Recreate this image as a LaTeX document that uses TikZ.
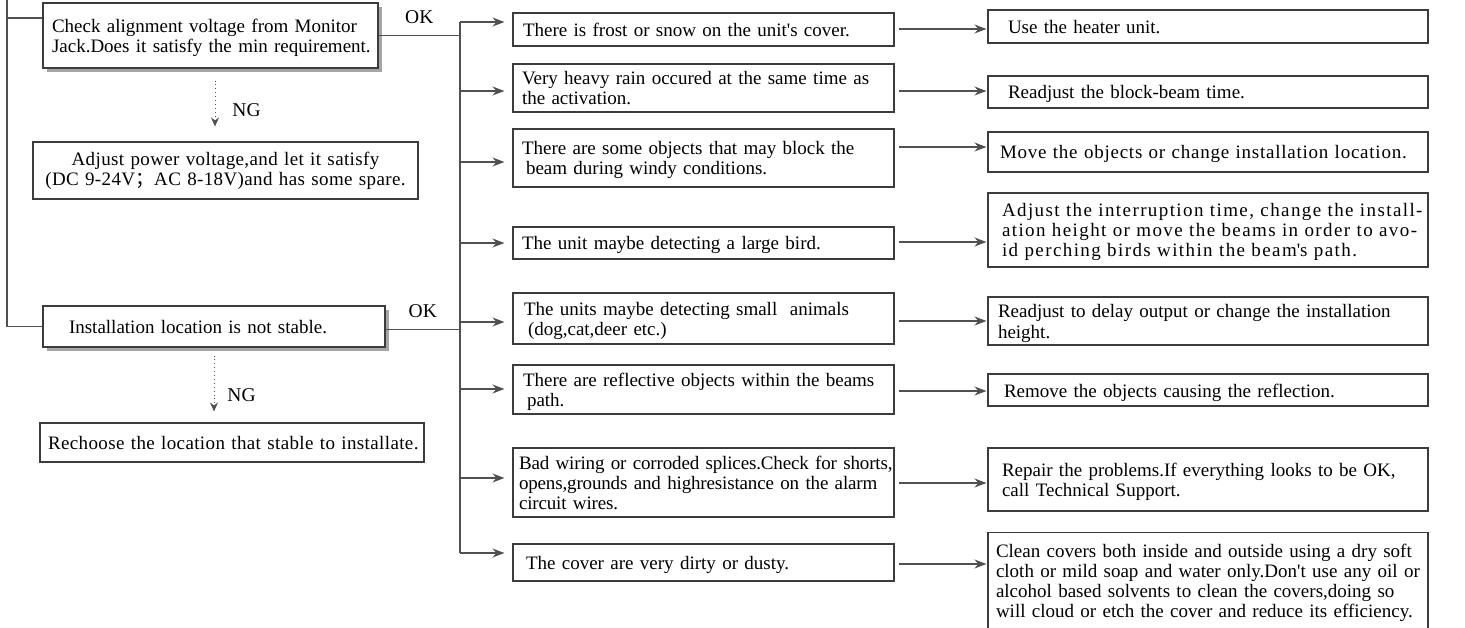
\documentclass[tikz,border=0pt]{standalone}
\usepackage{fontspec}
\setmainfont{Liberation Serif}
\newfontfamily\cjk{Noto Sans CJK SC}
\usetikzlibrary{positioning,arrows.meta,shadows,calc}
\definecolor{linecol}{RGB}{80,80,80}
\definecolor{boxcol}{RGB}{60,60,60}
\definecolor{shadowcol}{RGB}{165,165,165}
\newcommand{\boxfont}{\fontsize{19}{20}\selectfont}
% lines of a box, each one indented by #1 pt
\newcommand{\boxtext}[2]{\begin{tabular}{@{\hspace*{#1pt}}l@{}}\rule{0pt}{20pt}#2\end{tabular}}
\tikzset{
  wire/.style={draw=linecol, line width=1.1pt},
  flowarrow/.style={wire, -{Stealth[length=12pt,width=9pt,inset=4pt]}},
  dotarrow/.style={wire, line width=0.9pt, dash pattern=on 0.9pt off 3pt, -{Stealth[length=9pt,width=8pt,inset=3pt]}},
  box/.style={draw=boxcol, line width=1.1pt, fill=white, inner sep=0pt, align=left, text width=#1, font=\boxfont},
  midbox/.style={box=381pt},
  rightbox/.style={box=440pt},
  spaced/.style={font={\boxfont\addfontfeatures{LetterSpace=#1}}},
  shadowed/.style={drop shadow={shadow xshift=4pt, shadow yshift=-4pt, fill=shadowcol, opacity=1}},
  oklabel/.style={above=9pt, inner sep=2pt, font=\fontsize{19.5}{20}\selectfont},
  nglabel/.style={inner sep=2pt, font=\fontsize{19.5}{20}\selectfont}
}
\begin{document}
\begin{tikzpicture}[x=1pt, y=-1pt]
  \useasboundingbox (0,0) rectangle (1465,628);
  \clip (0,0) rectangle (1465,628);
  % left column
  \node[box=335pt, shadowed, minimum height=65pt] (chk) at (210.5,35.5) {\boxtext{9}{Check alignment voltage from Monitor\\Jack.Does it satisfy the min requirement.}};
  \node[box=385pt, spaced=2, align=center, minimum height=57pt] (adj) at (225.5,170.5) {Adjust power voltage,and let it satisfy\\(DC 9-24V{\cjk ；}AC 8-18V)and has some spare.};
  \node[box=342pt, shadowed, minimum height=41pt] (inst) at (214,326.5) {\boxtext{26}{Installation location is not stable.}};
  \node[box=384pt, spaced=2, minimum height=39pt] (rech) at (232,442.5) {\boxtext{8}{Rechoose the location that stable to installate.}};
  % causes
  \node[midbox, minimum height=33pt] (m1) at (703.5,29.5) {\boxtext{10}{There is frost or snow on the unit\textquotesingle s cover.}};
  \node[midbox, minimum height=48pt] (m2) at (703.5,88) {\boxtext{9}{Very heavy rain occured at the same time as\\the activation.}};
  \node[midbox, minimum height=58pt] (m3) at (703.5,158) {\boxtext{9}{There are some objects that may block the\\\hspace*{4pt}beam during windy conditions.}};
  \node[midbox, minimum height=32pt] (m4) at (703.5,243) {\boxtext{9}{The unit maybe detecting a large bird.}};
  \node[midbox, minimum height=51pt] (m5) at (703.5,318.5) {\boxtext{11}{The units maybe detecting small\ \ animals\\\hspace*{4pt}(dog,cat,deer etc.)}};
  \node[midbox, minimum height=49pt] (m6) at (703.5,389.5) {\boxtext{10}{There are reflective objects within the beams\\\hspace*{4pt}path.}};
  \node[midbox, spaced=-0.8, minimum height=69pt] (m7) at (703.5,482.5) {\boxtext{6}{Bad wiring or corroded splices.Check for shorts,\\opens,grounds and highresistance on the alarm\\circuit wires.}};
  \node[midbox, minimum height=37pt] (m8) at (703.5,562.5) {\boxtext{13}{The cover are very dirty or dusty.}};
  % remedies
  \node[rightbox, minimum height=33pt] (r1) at (1208,26.5) {\boxtext{20}{Use the heater unit.}};
  \node[rightbox, minimum height=32pt] (r2) at (1208,92) {\boxtext{20}{Readjust the block-beam time.}};
  \node[rightbox, spaced=4, minimum height=40pt] (r3) at (1208,152) {\boxtext{12}{Move the objects or change installation location.}};
  \node[rightbox, spaced=7.4, minimum height=74pt] (r4) at (1208,230) {\boxtext{14}{Adjust the interruption time, change the install-\\ation height or move the beams in order to avo-\\id perching birds within the beam\textquotesingle s path.}};
  \node[rightbox, minimum height=48pt] (r5) at (1208,321) {\boxtext{10}{Readjust to delay output or change the installation\\height.}};
  \node[rightbox, minimum height=32pt] (r6) at (1208,390) {\boxtext{16}{Remove the objects causing the reflection.}};
  \node[rightbox, minimum height=63pt] (r7) at (1208,479.5) {\boxtext{14}{Repair the problems.If everything looks to be OK,\\call Technical Support.}};
  \node[rightbox, inner ysep=5pt, anchor=north] (r8) at (1208,532) {\boxtext{8}{Clean covers both inside and outside using a dry soft\\cloth or mild soap and water only.Don\textquotesingle t use any oil or\\alcohol based solvents to clean the covers,doing so\\will cloud or etch the cover and reduce its efficiency.}};
  % spine and trunk
  \coordinate (spine) at (7,0);
  \coordinate (trunktop) at (460,22);
  \coordinate (trunkbot) at (460,553);
  \draw[wire] (spine) |- ([yshift=17.5pt]chk.west);
  \draw[wire] (spine) |- (inst.west);
  \draw[wire] (trunktop) -- (trunkbot);
  \draw[wire] (chk.east) -- node[oklabel]{OK} (chk.east -| trunktop);
  \draw[wire] ([yshift=-3pt]inst.east) -- node[oklabel]{OK} ([yshift=-3pt]inst.east -| trunktop);
  \draw[dotarrow, shorten <=12pt, shorten >=15pt] ($(chk.south)+(4.5,0)$) -- node[nglabel, pos=0.57, right=15pt]{NG} ($(chk.south |- adj.north)+(4.5,0)$);
  \draw[dotarrow, shorten <=8pt, shorten >=11pt] (inst.south) -- node[nglabel, pos=0.63, right=11pt]{NG} (inst.south |- rech.north);
  \foreach \i/\y in {1/22,2/91,3/162,4/243,5/322,6/389,7/478,8/553}
    \draw[flowarrow, shorten >=8pt] (trunktop |- 0,\y) -- (m\i.west |- 0,\y);
  \foreach \i/\y in {1/29,2/91,3/147,4/242,5/321,6/391,7/483,8/564}
    \draw[flowarrow, shorten <=4pt, shorten >=1pt] (m\i.east |- 0,\y) -- (r\i.west |- 0,\y);
\end{tikzpicture}
\end{document}
